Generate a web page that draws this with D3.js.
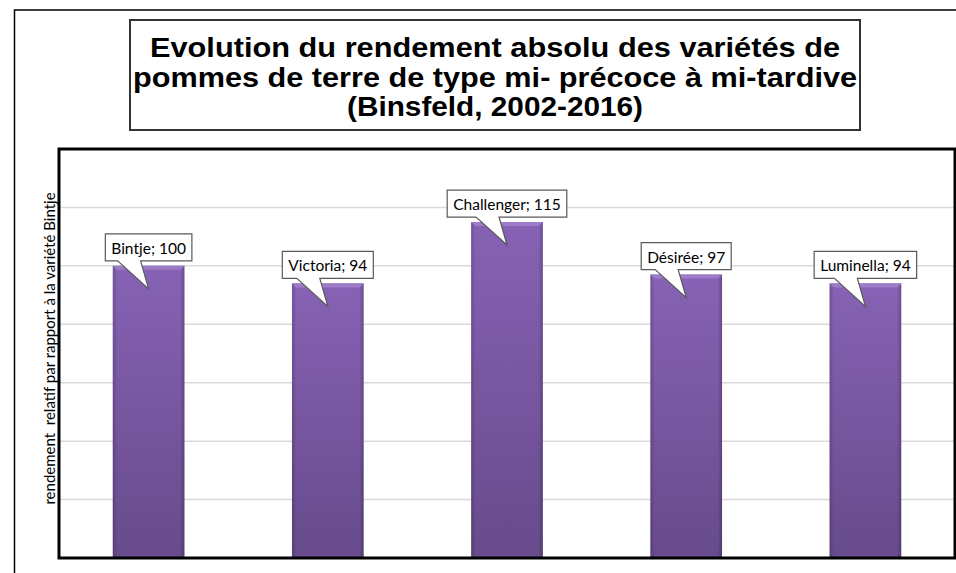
<!DOCTYPE html>
<html>
<head>
<meta charset="utf-8">
<script src="https://cdn.jsdelivr.net/npm/d3@7"></script>
<style>
  body { margin: 0; background: #fff; }
  svg { display: block; }
</style>
</head>
<body>
<svg id="chart" width="956" height="573"></svg>
<script>
// data
var varieties = ["Bintje", "Victoria", "Challenger", "Désirée", "Luminella"];
var rendement = [100, 94, 115, 97, 94];
var gridValues = [20, 40, 60, 80, 100, 120];
var titleLines = [
  "Evolution du rendement absolu des variétés de",
  "pommes de terre de type mi- précoce à mi-tardive",
  "(Binsfeld, 2002-2016)"
];
var yTitle = "rendement  relatif par rapport à la variété Bintje";

var svg = d3.select("#chart");

// plot area
var plot = { left: 59, right: 955, top: 149, bottom: 558 };

var x = d3.scaleBand()
  .domain(varieties)
  .range([plot.left, plot.right])
  .paddingInner(0.6)
  .paddingOuter(0.3);

var y = d3.scaleLinear()
  .domain([0, 140])
  .range([plot.bottom, plot.top]);

// outer frame (right side runs off the picture)
svg.append("path")
  .attr("d", "M970,10 H14.5 V580")
  .attr("fill", "none")
  .attr("stroke", "#000")
  .attr("stroke-width", 1.5);

// title box
var titleBox = svg.append("g");
titleBox.append("rect")
  .attr("x", 130).attr("y", 20)
  .attr("width", 730).attr("height", 110)
  .attr("fill", "#fff")
  .attr("stroke", "#333")
  .attr("stroke-width", 2);

// the title font in the picture is a bit wider than Liberation, stretch it
var titleWidths = [690, 724, 296];
titleBox.selectAll("text")
  .data(titleLines)
  .enter()
  .append("text")
  .attr("x", 495)
  .attr("y", function (d, i) { return 57 + i * 29.5; })
  .attr("text-anchor", "middle")
  .attr("textLength", function (d, i) { return titleWidths[i]; })
  .attr("lengthAdjust", "spacingAndGlyphs")
  .style("font-family", "'Liberation Sans', Arial, sans-serif")
  .style("font-weight", "bold")
  .style("font-size", "28px")
  .text(function (d) { return d; });

// gradients for the bars
var defs = svg.append("defs");
var grad = defs.append("linearGradient")
  .attr("id", "barGrad")
  .attr("x1", 0).attr("y1", 0).attr("x2", 0).attr("y2", 1);
grad.append("stop").attr("offset", "0%").attr("stop-color", "#8762b5");
grad.append("stop").attr("offset", "100%").attr("stop-color", "#674b8b");

var side = defs.append("linearGradient")
  .attr("id", "sideGrad")
  .attr("x1", 0).attr("y1", 0).attr("x2", 1).attr("y2", 0);
side.append("stop").attr("offset", "0%").attr("stop-color", "#000").attr("stop-opacity", 0.18);
side.append("stop").attr("offset", "6%").attr("stop-color", "#000").attr("stop-opacity", 0);
side.append("stop").attr("offset", "94%").attr("stop-color", "#000").attr("stop-opacity", 0);
side.append("stop").attr("offset", "100%").attr("stop-color", "#000").attr("stop-opacity", 0.22);

// gridlines
svg.append("g")
  .selectAll("line")
  .data(gridValues)
  .enter()
  .append("line")
  .attr("x1", plot.left)
  .attr("x2", plot.right)
  .attr("y1", function (d) { return y(d); })
  .attr("y2", function (d) { return y(d); })
  .attr("stroke", "#d9d9d9")
  .attr("stroke-width", 1.5);

// bars
var bars = svg.append("g")
  .selectAll("g")
  .data(varieties)
  .enter()
  .append("g");

bars.append("rect")
  .attr("x", function (d) { return x(d); })
  .attr("y", function (d, i) { return y(rendement[i]); })
  .attr("width", x.bandwidth())
  .attr("height", function (d, i) { return y(0) - y(rendement[i]); })
  .attr("fill", "url(#barGrad)");

bars.append("rect")
  .attr("x", function (d) { return x(d); })
  .attr("y", function (d, i) { return y(rendement[i]); })
  .attr("width", x.bandwidth())
  .attr("height", function (d, i) { return y(0) - y(rendement[i]); })
  .attr("fill", "url(#sideGrad)");

// bevel highlight on top
bars.append("path")
  .attr("d", function (d, i) {
    var x0 = x(d), x1 = x(d) + x.bandwidth(), t = y(rendement[i]);
    return "M" + x0 + "," + t + "H" + x1 + "L" + (x1 - 4) + "," + (t + 4) + "H" + (x0 + 4) + "Z";
  })
  .attr("fill", "#9c7cc8");

// plot frame
svg.append("rect")
  .attr("x", plot.left).attr("y", plot.top)
  .attr("width", plot.right - plot.left)
  .attr("height", plot.bottom - plot.top)
  .attr("fill", "none")
  .attr("stroke", "#000")
  .attr("stroke-width", 3);

// y axis title
svg.append("text")
  .attr("transform", "translate(55," + ((plot.top + plot.bottom) / 2 - 5) + ") rotate(-90)")
  .attr("text-anchor", "middle")
  .style("font-family", "Lato, 'Open Sans', sans-serif")
  .style("font-size", "15px")
  .attr("xml:space", "preserve")
  .text(yTitle);

// callout labels
var labels = svg.append("g")
  .selectAll("g")
  .data(varieties)
  .enter()
  .append("g");

labels.each(function (d, i) {
  var g = d3.select(this);
  var cx = x(d) + x.bandwidth() / 2;
  var top = y(rendement[i]);
  var txt = g.append("text")
    .attr("x", cx)
    .attr("y", top - 12)
    .attr("text-anchor", "middle")
    .style("font-family", "Lato, 'Open Sans', sans-serif")
    .style("font-size", "15.5px")
    .text(d + "; " + rendement[i]);
  var w = txt.node().getComputedTextLength() + 12;
  var bx0 = cx - w / 2, bx1 = cx + w / 2;
  var by0 = top - 32, by1 = top - 5;
  var path = "M" + bx0 + "," + by0 + "H" + bx1 + "V" + by1 +
    "H" + (cx - 8) + "L" + cx + "," + (top + 23) + "L" + (cx - 31) + "," + by1 +
    "H" + bx0 + "Z";
  g.insert("path", "text")
    .attr("d", path)
    .attr("fill", "#fff")
    .attr("stroke", "#595959")
    .attr("stroke-width", 1.2);
});
</script>
</body>
</html>
